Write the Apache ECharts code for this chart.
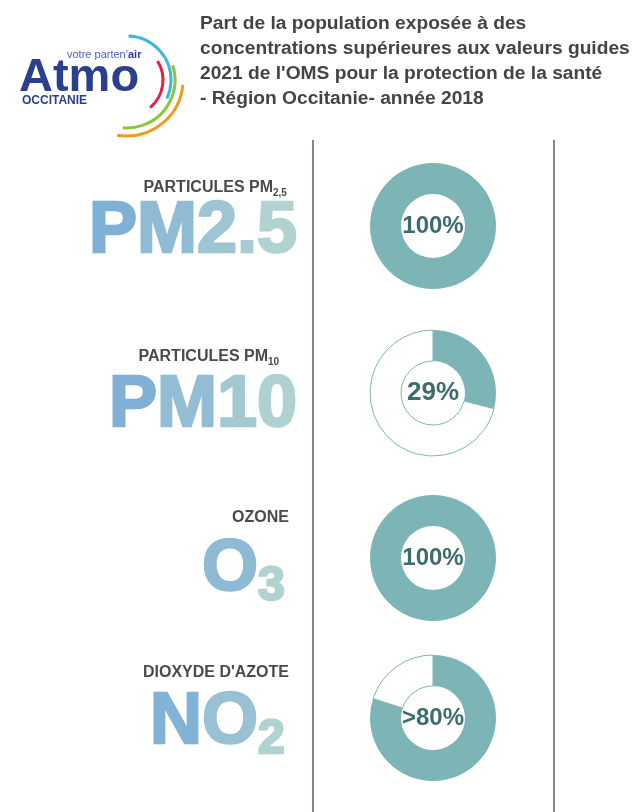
<!DOCTYPE html>
<html>
<head>
<meta charset="utf-8">
<script src="https://cdn.jsdelivr.net/npm/echarts@6/dist/echarts.min.js"></script>
<style>
  html, body { margin: 0; padding: 0; background: #fff; }
  #chart { width: 635px; height: 812px; }
</style>
</head>
<body>
<div id="chart"></div>
<script>
// données
const titleLines = [
  'Part de la population exposée à des',
  'concentrations supérieures aux valeurs guides',
  "2021 de l'OMS pour la protection de la santé",
  '- Région Occitanie- année 2018'
];
const pollutantNames = ['PARTICULES PM', 'PARTICULES PM', 'OZONE', "DIOXYDE D'AZOTE"];
const pollutantSubs = ['2,5', '10', '', ''];
const bigCodes = ['PM2.5', 'PM10', 'O', 'NO'];
const bigSubs = ['', '', '3', '2'];
const shares = [100, 29, 100, 80];
const shareLabels = ['100%', '29%', '100%', '>80%'];

// mise en page
const rowLabelY = [188, 357, 518, 673];
const rowBigY = [232, 406, 570, 723];
const donutY = [226, 393, 558, 718];
const labelFont = [24, 26, 24, 24];

const chart = echarts.init(document.getElementById('chart'));

const teal = '#7db5b6';
const measure = document.createElement('canvas').getContext('2d');

// dégradé bleu -> vert d'eau, lettre par lettre
function mix(t) {
  const a = [0x78, 0xab, 0xd6], b = [0xb6, 0xd6, 0xd0];
  const c = a.map(function (v, k) { return Math.round(v + (b[k] - v) * t); });
  return 'rgb(' + c.join(',') + ')';
}
// place chaque lettre à la main ; x = bord gauche (align 'left') ou bord droit (align 'right')
function gradLetters(out, str, size, x, y, align, t0, t1) {
  const font = 'bold ' + size + 'px "Liberation Sans"';
  measure.font = font;
  const widths = str.split('').map(function (ch) { return measure.measureText(ch).width; });
  const total = widths.reduce(function (s, w) { return s + w; }, 0);
  const x0 = align === 'right' ? x - total : x;
  let cx = x0;
  for (let k = 0; k < str.length; k++) {
    const col = mix(t0 + (t1 - t0) * (cx - x0 + widths[k] / 2) / total);
    out.push({ type: 'text', x: cx, y: y, style: { text: str[k], font: font, fill: col, stroke: col, lineWidth: 2.5, lineJoin: 'miter', align: 'left', verticalAlign: 'middle' } });
    cx += widths[k];
  }
}

const graphics = [];
// lignes verticales
graphics.push({ type: 'line', shape: { x1: 313, y1: 140, x2: 313, y2: 812 }, style: { stroke: '#56616b', lineWidth: 1.5 } });
graphics.push({ type: 'line', shape: { x1: 554, y1: 140, x2: 554, y2: 812 }, style: { stroke: '#56616b', lineWidth: 1.5 } });

// logo
graphics.push({ type: 'text', x: 19, y: 78, style: { text: 'Atmo', font: 'bold 47px "Liberation Sans"', fill: '#2b3f8f', verticalAlign: 'middle' } });
graphics.push({ type: 'text', x: 67, y: 55, style: { text: "votre parten'", font: '11px "Liberation Sans"', fill: '#4a63ad', verticalAlign: 'middle' } });
graphics.push({ type: 'text', x: 128, y: 55, style: { text: 'air', font: 'bold 11px "Liberation Sans"', fill: '#2b3f8f', verticalAlign: 'middle' } });
graphics.push({ type: 'text', x: 22, y: 101, style: { text: 'OCCITANIE', font: 'bold 12px "Liberation Sans"', fill: '#2b3f8f', verticalAlign: 'middle' } });
const arcs = [
  { r: 44, a0: -88, a1: 25, c: '#3fb6e0' },
  { r: 36, a0: -32, a1: 50, c: '#e2204a' },
  { r: 48, a0: -18, a1: 95, c: '#8cc63f' },
  { r: 56, a0: 5, a1: 100, c: '#f39a1e' }
];
arcs.forEach(function (a) {
  graphics.push({
    type: 'arc',
    shape: { cx: 127, cy: 80, r: a.r, startAngle: a.a0 * Math.PI / 180, endAngle: a.a1 * Math.PI / 180, clockwise: true },
    style: { stroke: a.c, lineWidth: 3, fill: null }
  });
});

// libellés des polluants
pollutantNames.forEach(function (name, i) {
  const sub = pollutantSubs[i];
  const right = sub ? (sub.length > 2 ? 273 : 268) : 289;
  graphics.push({ type: 'text', x: right, y: rowLabelY[i], style: { text: name, font: 'bold 16px "Liberation Sans"', fill: '#4a4a4a', align: 'right', verticalAlign: 'middle' } });
  if (sub) {
    graphics.push({ type: 'text', x: right, y: rowLabelY[i] + 5, style: { text: sub, font: 'bold 10px "Liberation Sans"', fill: '#4a4a4a', align: 'left', verticalAlign: 'middle' } });
  }
  const hasSub = !!bigSubs[i];
  gradLetters(graphics, bigCodes[i], 72, hasSub ? 258 : 297, rowBigY[i], 'right', 0, hasSub ? 0.7 : 1);
  if (hasSub) {
    gradLetters(graphics, bigSubs[i], 48, 258, rowBigY[i] + 17, 'left', 0.8, 1);
  }
});

const series = shares.map(function (v, i) {
  const rest = 100 - v;
  return {
    type: 'pie',
    center: [433, donutY[i]],
    radius: [32, 63],
    startAngle: 90,
    clockwise: true,
    silent: true,
    label: { show: false },
    labelLine: { show: false },
    data: [
      {
        value: v,
        itemStyle: { color: teal },
        label: {
          show: true, position: 'center', formatter: shareLabels[i],
          fontFamily: 'Liberation Sans', fontWeight: 'bold', fontSize: labelFont[i], color: '#3e6c6e'
        }
      },
      {
        value: rest,
        itemStyle: { color: '#ffffff', borderColor: rest > 0 ? teal : 'transparent', borderWidth: rest > 0 ? 1 : 0 }
      }
    ]
  };
});

chart.setOption({
  animation: false,
  backgroundColor: '#ffffff',
  title: {
    text: titleLines.join('\n'),
    left: 195,
    top: 6,
    textStyle: { fontFamily: 'Liberation Sans', fontSize: 19.2, fontWeight: 'bold', color: '#444444', lineHeight: 25 }
  },
  graphic: graphics,
  series: series
});
</script>
</body>
</html>
